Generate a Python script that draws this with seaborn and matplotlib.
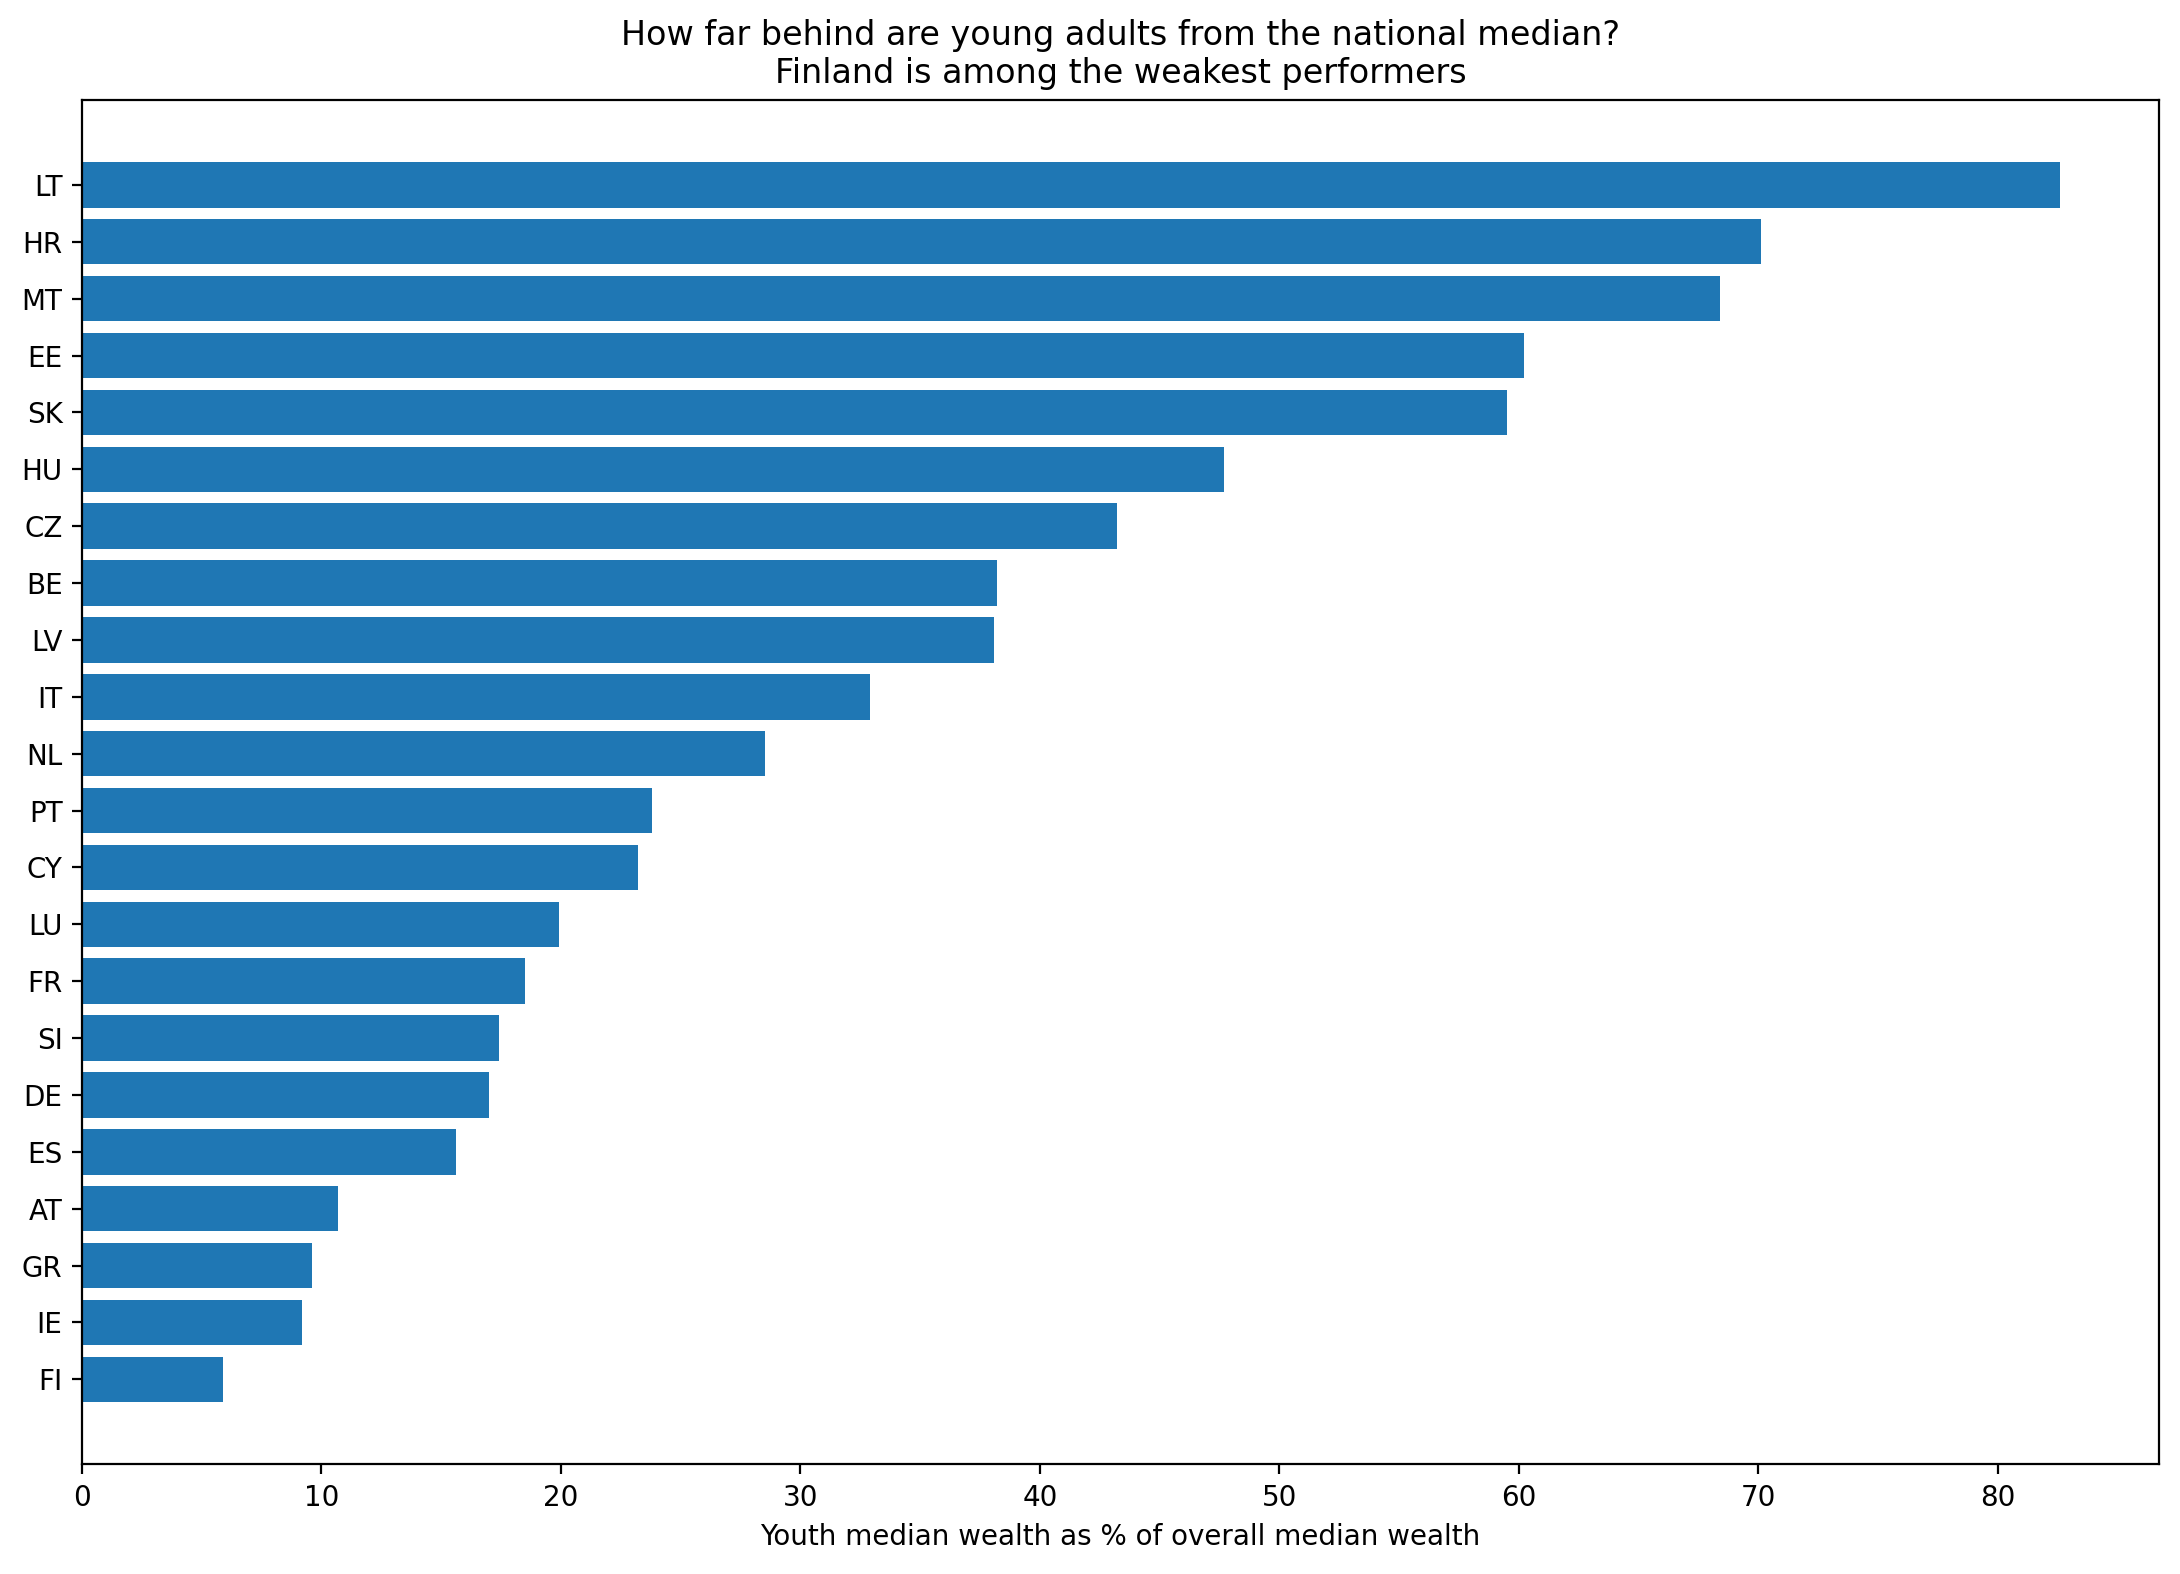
import pandas as pd
import seaborn as sns
import matplotlib.pyplot as plt

# youth median wealth relative to overall median
countries = ["LT", "HR", "MT", "EE", "SK", "HU", "CZ", "BE", "LV", "IT", "NL",
             "PT", "CY", "LU", "FR", "SI", "DE", "ES", "AT", "GR", "IE", "FI"]
youth_pct = [82.6, 70.1, 68.4, 60.2, 59.5, 47.7, 43.2, 38.2, 38.1, 32.9, 28.5,
             23.8, 23.2, 19.9, 18.5, 17.4, 17.0, 15.6, 10.7, 9.6, 9.2, 5.9]

df = pd.DataFrame({"country": countries, "pct": youth_pct})

fig, ax = plt.subplots(figsize=(10.9, 7.87), dpi=200)
sns.barplot(data=df, x="pct", y="country", orient="h", color="#1f77b4",
            saturation=1, width=0.8, ax=ax)

# restore matplotlib-style margins on the category axis
n = len(countries)
pad = 0.05 * (n - 1 + 0.8)
ax.set_ylim(n - 1 + 0.4 + pad, -0.4 - pad)

ax.set_ylabel("")
ax.set_xlabel("Youth median wealth as % of overall median wealth")
ax.set_title("How far behind are young adults from the national median?\n"
             "Finland is among the weakest performers")
fig.subplots_adjust(left=0.0376, right=0.9904, top=0.9364, bottom=0.0698)
plt.savefig("out.png", dpi=200)
